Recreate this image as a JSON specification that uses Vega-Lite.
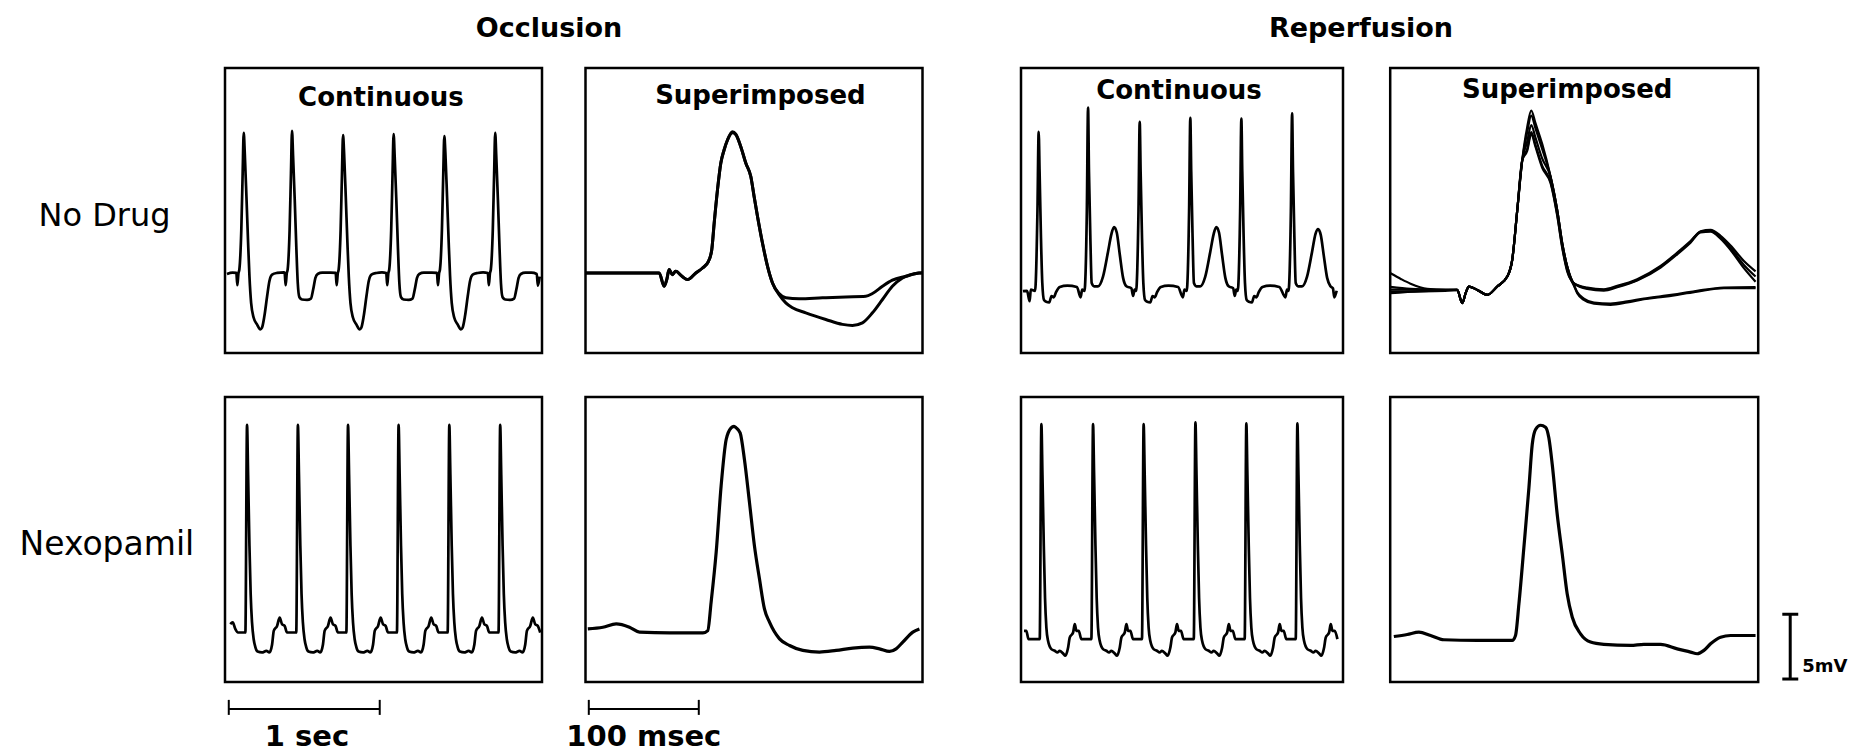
{
"$schema": "https://vega.github.io/schema/vega-lite/v6.json",
"background": "white",
"padding": {"left": 17, "top": 14, "right": 5, "bottom": 0},
"config": {"view": {"stroke": "black", "strokeWidth": 2.5}, "font": "DejaVu Sans"},
"datasets": {
"p1": [{"t":0.013,"v":6.1},{"t":0.05,"v":6.2},{"t":0.075,"v":6.18},{"t":0.082,"v":5.23},{"t":0.089,"v":6.15},{"t":0.095,"v":6.44},{"t":0.108,"v":9.49},{"t":0.117,"v":13.87},{"t":0.124,"v":17.0},{"t":0.131,"v":15.41},{"t":0.142,"v":12.08},{"t":0.153,"v":8.51},{"t":0.162,"v":5.92},{"t":0.173,"v":3.87},{"t":0.19,"v":2.72},{"t":0.212,"v":2.21},{"t":0.234,"v":1.82},{"t":0.245,"v":1.95},{"t":0.261,"v":2.85},{"t":0.279,"v":4.38},{"t":0.294,"v":5.54},{"t":0.312,"v":6.05},{"t":0.345,"v":6.18},{"t":0.39,"v":6.23},
{"t":0.395,"v":6.18},{"t":0.402,"v":5.23},{"t":0.409,"v":6.15},{"t":0.415,"v":6.44},{"t":0.428,"v":9.49},{"t":0.437,"v":13.87},{"t":0.444,"v":17.15},{"t":0.451,"v":15.2},{"t":0.462,"v":11.8},{"t":0.473,"v":8.0},{"t":0.482,"v":5.4},{"t":0.493,"v":4.3},{"t":0.51,"v":4.13},{"t":0.544,"v":4.1},{"t":0.569,"v":4.2},{"t":0.584,"v":4.9},{"t":0.599,"v":5.8},{"t":0.614,"v":6.1},{"t":0.644,"v":6.2},{"t":0.7,"v":6.2},
{"t":0.733,"v":6.18},{"t":0.74,"v":5.23},{"t":0.747,"v":6.15},{"t":0.753,"v":6.44},{"t":0.766,"v":9.49},{"t":0.775,"v":13.87},{"t":0.782,"v":16.82},{"t":0.789,"v":15.41},{"t":0.8,"v":12.08},{"t":0.811,"v":8.51},{"t":0.82,"v":5.92},{"t":0.831,"v":3.87},{"t":0.848,"v":2.72},{"t":0.87,"v":2.21},{"t":0.892,"v":1.82},{"t":0.903,"v":1.95},{"t":0.919,"v":2.85},{"t":0.937,"v":4.38},{"t":0.952,"v":5.54},{"t":0.97,"v":6.05},{"t":1.003,"v":6.18},{"t":1.04,"v":6.23},
{"t":1.068,"v":6.18},{"t":1.075,"v":5.23},{"t":1.082,"v":6.15},{"t":1.088,"v":6.44},{"t":1.101,"v":9.49},{"t":1.11,"v":13.87},{"t":1.117,"v":16.9},{"t":1.124,"v":15.2},{"t":1.135,"v":11.8},{"t":1.146,"v":8.0},{"t":1.155,"v":5.4},{"t":1.166,"v":4.3},{"t":1.183,"v":4.13},{"t":1.217,"v":4.1},{"t":1.242,"v":4.2},{"t":1.257,"v":4.9},{"t":1.272,"v":5.8},{"t":1.287,"v":6.1},{"t":1.317,"v":6.2},{"t":1.37,"v":6.2},
{"t":1.404,"v":6.18},{"t":1.411,"v":5.23},{"t":1.418,"v":6.15},{"t":1.424,"v":6.44},{"t":1.437,"v":9.49},{"t":1.446,"v":13.87},{"t":1.453,"v":16.74},{"t":1.46,"v":15.41},{"t":1.471,"v":12.08},{"t":1.482,"v":8.51},{"t":1.491,"v":5.92},{"t":1.502,"v":3.87},{"t":1.519,"v":2.72},{"t":1.541,"v":2.21},{"t":1.563,"v":1.82},{"t":1.574,"v":1.95},{"t":1.59,"v":2.85},{"t":1.608,"v":4.38},{"t":1.623,"v":5.54},{"t":1.641,"v":6.05},{"t":1.674,"v":6.18},{"t":1.71,"v":6.23},
{"t":1.741,"v":6.18},{"t":1.748,"v":5.23},{"t":1.755,"v":6.15},{"t":1.761,"v":6.44},{"t":1.774,"v":9.49},{"t":1.783,"v":13.87},{"t":1.79,"v":17.0},{"t":1.797,"v":15.2},{"t":1.808,"v":11.8},{"t":1.819,"v":8.0},{"t":1.828,"v":5.4},{"t":1.839,"v":4.3},{"t":1.856,"v":4.13},{"t":1.89,"v":4.1},{"t":1.915,"v":4.2},{"t":1.93,"v":4.9},{"t":1.945,"v":5.8},{"t":1.96,"v":6.1},{"t":1.99,"v":6.2},{"t":2.03,"v":6.2},{"t":2.065,"v":6.1},{"t":2.073,"v":5.2},{"t":2.085,"v":5.9}],
"p3": [{"t":0.013,"v":4.77},{"t":0.04,"v":4.8},{"t":0.057,"v":4.0},{"t":0.065,"v":4.9},{"t":0.093,"v":4.8},{"t":0.109,"v":11},{"t":0.117,"v":17.08},{"t":0.123,"v":14},{"t":0.132,"v":9},{"t":0.141,"v":5.4},{"t":0.152,"v":4.1},{"t":0.167,"v":3.95},{"t":0.187,"v":3.9},{"t":0.202,"v":4.4},{"t":0.217,"v":4.3},{"t":0.232,"v":4.7},{"t":0.257,"v":5.1},{"t":0.307,"v":5.2},{"t":0.37,"v":5.1},{"t":0.395,"v":4.3},{"t":0.405,"v":4.9},{"t":0.42,"v":4.8},
{"t":0.436,"v":11},{"t":0.444,"v":18.95},{"t":0.45,"v":14},{"t":0.459,"v":9},{"t":0.468,"v":5.4},{"t":0.484,"v":5.15},{"t":0.51,"v":5.15},{"t":0.543,"v":5.9},{"t":0.576,"v":7.8},{"t":0.599,"v":9.2},{"t":0.616,"v":9.72},{"t":0.634,"v":9.3},{"t":0.654,"v":7.6},{"t":0.676,"v":5.8},{"t":0.698,"v":5.15},{"t":0.731,"v":5.0},{"t":0.742,"v":4.4},{"t":0.752,"v":4.9},{"t":0.762,"v":4.8},
{"t":0.778,"v":11},{"t":0.786,"v":17.85},{"t":0.792,"v":14},{"t":0.801,"v":9},{"t":0.81,"v":5.4},{"t":0.821,"v":4.1},{"t":0.836,"v":3.95},{"t":0.856,"v":3.9},{"t":0.871,"v":4.4},{"t":0.886,"v":4.3},{"t":0.901,"v":4.7},{"t":0.926,"v":5.1},{"t":0.976,"v":5.2},{"t":1.04,"v":5.1},{"t":1.072,"v":4.3},{"t":1.082,"v":4.9},{"t":1.097,"v":4.8},
{"t":1.113,"v":11},{"t":1.121,"v":18.15},{"t":1.127,"v":14},{"t":1.136,"v":9},{"t":1.145,"v":5.4},{"t":1.161,"v":5.15},{"t":1.187,"v":5.15},{"t":1.22,"v":5.9},{"t":1.253,"v":7.8},{"t":1.276,"v":9.2},{"t":1.293,"v":9.72},{"t":1.311,"v":9.3},{"t":1.331,"v":7.6},{"t":1.353,"v":5.8},{"t":1.375,"v":5.15},{"t":1.405,"v":5.0},{"t":1.415,"v":4.4},{"t":1.425,"v":4.9},{"t":1.435,"v":4.8},
{"t":1.451,"v":11},{"t":1.459,"v":18.1},{"t":1.465,"v":14},{"t":1.474,"v":9},{"t":1.483,"v":5.4},{"t":1.494,"v":4.1},{"t":1.509,"v":3.95},{"t":1.529,"v":3.9},{"t":1.544,"v":4.4},{"t":1.559,"v":4.3},{"t":1.574,"v":4.7},{"t":1.599,"v":5.1},{"t":1.649,"v":5.2},{"t":1.71,"v":5.1},{"t":1.751,"v":4.3},{"t":1.761,"v":4.9},{"t":1.771,"v":4.8},
{"t":1.787,"v":11},{"t":1.795,"v":18.49},{"t":1.801,"v":14},{"t":1.81,"v":9},{"t":1.819,"v":5.4},{"t":1.835,"v":5.15},{"t":1.861,"v":5.15},{"t":1.894,"v":5.9},{"t":1.927,"v":7.8},{"t":1.95,"v":9.2},{"t":1.967,"v":9.56},{"t":1.985,"v":9.1},{"t":2.005,"v":7.5},{"t":2.027,"v":5.8},{"t":2.049,"v":5.15},{"t":2.065,"v":5.0},{"t":2.075,"v":4.3},{"t":2.09,"v":4.8}],
"p5": [{"t":0.035,"v":4.46},{"t":0.051,"v":4.6},{"t":0.068,"v":4.1},{"t":0.086,"v":3.82},{"t":0.135,"v":3.82},{"t":0.146,"v":19.85},{"t":0.153,"v":16.0},{"t":0.162,"v":10.5},{"t":0.17,"v":6.8},{"t":0.179,"v":4.6},{"t":0.19,"v":3.3},{"t":0.201,"v":2.7},{"t":0.216,"v":2.35},{"t":0.245,"v":2.28},{"t":0.274,"v":2.4},{"t":0.294,"v":2.28},{"t":0.312,"v":2.9},{"t":0.323,"v":3.95},{"t":0.345,"v":4.33},{"t":0.362,"v":4.97},{"t":0.378,"v":4.46},{"t":0.395,"v":4.33},{"t":0.411,"v":3.82},
{"t":0.472,"v":3.82},{"t":0.483,"v":19.85},{"t":0.49,"v":16.0},{"t":0.499,"v":10.5},{"t":0.507,"v":6.8},{"t":0.516,"v":4.6},{"t":0.527,"v":3.3},{"t":0.538,"v":2.7},{"t":0.553,"v":2.35},{"t":0.582,"v":2.28},{"t":0.611,"v":2.4},{"t":0.631,"v":2.28},{"t":0.649,"v":2.9},{"t":0.66,"v":3.95},{"t":0.682,"v":4.33},{"t":0.699,"v":4.97},{"t":0.715,"v":4.46},{"t":0.732,"v":4.33},{"t":0.748,"v":3.82},
{"t":0.804,"v":3.82},{"t":0.815,"v":19.85},{"t":0.822,"v":16.0},{"t":0.831,"v":10.5},{"t":0.839,"v":6.8},{"t":0.848,"v":4.6},{"t":0.859,"v":3.3},{"t":0.87,"v":2.7},{"t":0.885,"v":2.35},{"t":0.914,"v":2.28},{"t":0.943,"v":2.4},{"t":0.963,"v":2.28},{"t":0.981,"v":2.9},{"t":0.992,"v":3.95},{"t":1.014,"v":4.33},{"t":1.031,"v":4.97},{"t":1.047,"v":4.46},{"t":1.064,"v":4.33},{"t":1.08,"v":3.82},
{"t":1.139,"v":3.82},{"t":1.15,"v":19.85},{"t":1.157,"v":16.0},{"t":1.166,"v":10.5},{"t":1.174,"v":6.8},{"t":1.183,"v":4.6},{"t":1.194,"v":3.3},{"t":1.205,"v":2.7},{"t":1.22,"v":2.35},{"t":1.249,"v":2.28},{"t":1.278,"v":2.4},{"t":1.298,"v":2.28},{"t":1.316,"v":2.9},{"t":1.327,"v":3.95},{"t":1.349,"v":4.33},{"t":1.366,"v":4.97},{"t":1.382,"v":4.46},{"t":1.399,"v":4.33},{"t":1.415,"v":3.82},
{"t":1.475,"v":3.82},{"t":1.486,"v":19.85},{"t":1.493,"v":16.0},{"t":1.502,"v":10.5},{"t":1.51,"v":6.8},{"t":1.519,"v":4.6},{"t":1.53,"v":3.3},{"t":1.541,"v":2.7},{"t":1.556,"v":2.35},{"t":1.585,"v":2.28},{"t":1.614,"v":2.4},{"t":1.634,"v":2.28},{"t":1.652,"v":2.9},{"t":1.663,"v":3.95},{"t":1.685,"v":4.33},{"t":1.702,"v":4.97},{"t":1.718,"v":4.46},{"t":1.735,"v":4.33},{"t":1.751,"v":3.82},
{"t":1.812,"v":3.82},{"t":1.823,"v":19.85},{"t":1.83,"v":16.0},{"t":1.839,"v":10.5},{"t":1.847,"v":6.8},{"t":1.856,"v":4.6},{"t":1.867,"v":3.3},{"t":1.878,"v":2.7},{"t":1.893,"v":2.35},{"t":1.922,"v":2.28},{"t":1.951,"v":2.4},{"t":1.971,"v":2.28},{"t":1.989,"v":2.9},{"t":2.0,"v":3.95},{"t":2.022,"v":4.33},{"t":2.039,"v":4.97},{"t":2.055,"v":4.46},{"t":2.072,"v":4.33},{"t":2.088,"v":3.82}],
"p7": [{"t":0.02,"v":3.95},{"t":0.035,"v":3.95},{"t":0.05,"v":3.31},{"t":0.124,"v":3.31},{"t":0.135,"v":19.9},{"t":0.142,"v":16.0},{"t":0.151,"v":10.5},{"t":0.159,"v":6.5},{"t":0.168,"v":4.2},{"t":0.179,"v":3.18},{"t":0.201,"v":2.54},{"t":0.223,"v":2.41},{"t":0.241,"v":2.28},{"t":0.256,"v":2.41},{"t":0.278,"v":2.21},{"t":0.294,"v":2.03},{"t":0.312,"v":2.67},{"t":0.323,"v":3.44},{"t":0.345,"v":3.82},{"t":0.356,"v":4.46},{"t":0.367,"v":3.95},{"t":0.382,"v":3.95},{"t":0.4,"v":3.31},
{"t":0.466,"v":3.31},{"t":0.477,"v":19.9},{"t":0.484,"v":16.0},{"t":0.493,"v":10.5},{"t":0.501,"v":6.5},{"t":0.51,"v":4.2},{"t":0.521,"v":3.18},{"t":0.543,"v":2.54},{"t":0.565,"v":2.41},{"t":0.583,"v":2.28},{"t":0.598,"v":2.41},{"t":0.62,"v":2.21},{"t":0.636,"v":2.03},{"t":0.654,"v":2.67},{"t":0.665,"v":3.44},{"t":0.687,"v":3.82},{"t":0.698,"v":4.46},{"t":0.709,"v":3.95},{"t":0.724,"v":3.95},{"t":0.742,"v":3.31},
{"t":0.801,"v":3.31},{"t":0.812,"v":19.9},{"t":0.819,"v":16.0},{"t":0.828,"v":10.5},{"t":0.836,"v":6.5},{"t":0.845,"v":4.2},{"t":0.856,"v":3.18},{"t":0.878,"v":2.54},{"t":0.9,"v":2.41},{"t":0.918,"v":2.28},{"t":0.933,"v":2.41},{"t":0.955,"v":2.21},{"t":0.971,"v":2.03},{"t":0.989,"v":2.67},{"t":1.0,"v":3.44},{"t":1.022,"v":3.82},{"t":1.033,"v":4.46},{"t":1.044,"v":3.95},{"t":1.059,"v":3.95},{"t":1.077,"v":3.31},
{"t":1.144,"v":3.31},{"t":1.155,"v":20.05},{"t":1.162,"v":16.0},{"t":1.171,"v":10.5},{"t":1.179,"v":6.5},{"t":1.188,"v":4.2},{"t":1.199,"v":3.18},{"t":1.221,"v":2.54},{"t":1.243,"v":2.41},{"t":1.261,"v":2.28},{"t":1.276,"v":2.41},{"t":1.298,"v":2.21},{"t":1.314,"v":2.03},{"t":1.332,"v":2.67},{"t":1.343,"v":3.44},{"t":1.365,"v":3.82},{"t":1.376,"v":4.46},{"t":1.387,"v":3.95},{"t":1.402,"v":3.95},{"t":1.42,"v":3.31},
{"t":1.481,"v":3.31},{"t":1.492,"v":19.97},{"t":1.499,"v":16.0},{"t":1.508,"v":10.5},{"t":1.516,"v":6.5},{"t":1.525,"v":4.2},{"t":1.536,"v":3.18},{"t":1.558,"v":2.54},{"t":1.58,"v":2.41},{"t":1.598,"v":2.28},{"t":1.613,"v":2.41},{"t":1.635,"v":2.21},{"t":1.651,"v":2.03},{"t":1.669,"v":2.67},{"t":1.68,"v":3.44},{"t":1.702,"v":3.82},{"t":1.713,"v":4.46},{"t":1.724,"v":3.95},{"t":1.739,"v":3.95},{"t":1.757,"v":3.31},
{"t":1.819,"v":3.31},{"t":1.83,"v":19.97},{"t":1.837,"v":16.0},{"t":1.846,"v":10.5},{"t":1.854,"v":6.5},{"t":1.863,"v":4.2},{"t":1.874,"v":3.18},{"t":1.896,"v":2.54},{"t":1.918,"v":2.41},{"t":1.936,"v":2.28},{"t":1.951,"v":2.41},{"t":1.973,"v":2.21},{"t":1.989,"v":2.03},{"t":2.007,"v":2.67},{"t":2.018,"v":3.44},{"t":2.04,"v":3.82},{"t":2.051,"v":4.46},{"t":2.062,"v":3.95},{"t":2.077,"v":3.95},{"t":2.095,"v":3.31}],
"p2": [{"s":"a","t":0.3,"v":6.18},{"s":"a","t":40,"v":6.18},{"s":"a","t":67,"v":6.18},{"s":"a","t":71.5,"v":5.15},{"s":"a","t":74,"v":5.7},{"s":"a","t":76,"v":6.44},{"s":"a","t":79,"v":6.05},{"s":"a","t":82,"v":6.31},{"s":"a","t":88,"v":5.9},{"s":"a","t":92.7,"v":5.67},{"s":"a","t":100.3,"v":6.18},{"s":"a","t":106.4,"v":6.56},{"s":"a","t":111.8,"v":7.08},{"s":"a","t":114.8,"v":7.97},{"s":"a","t":117,"v":10.03},{"s":"a","t":120,"v":12.59},{"s":"a","t":123,"v":14.64},{"s":"a","t":126,"v":15.67},{"s":"a","t":129.1,"v":16.44},{"s":"a","t":133.6,"v":17.08},{"s":"a","t":136.7,"v":16.9},{"s":"a","t":141.2,"v":15.92},{"s":"a","t":145.8,"v":14.64},{"s":"a","t":150.3,"v":13.62},{"s":"a","t":153.3,"v":12.08},{"s":"a","t":156.4,"v":10.54},{"s":"a","t":160.9,"v":8.49},{"s":"a","t":165.5,"v":6.69},{"s":"a","t":170,"v":5.41},{"s":"a","t":176,"v":4.59},{"s":"a","t":182.1,"v":4.26},{"s":"a","t":194.2,"v":4.18},{"s":"a","t":215.5,"v":4.26},{"s":"a","t":236.7,"v":4.33},{"s":"a","t":254.8,"v":4.38},{"s":"a","t":260.9,"v":4.59},{"s":"a","t":270,"v":5.15},{"s":"a","t":279,"v":5.62},{"s":"a","t":291.2,"v":5.92},{"s":"a","t":303.3,"v":6.18},{"s":"a","t":306.4,"v":6.2},
{"s":"b","t":0.3,"v":6.18},{"s":"b","t":40,"v":6.18},{"s":"b","t":67,"v":6.18},{"s":"b","t":71.5,"v":5.15},{"s":"b","t":74,"v":5.7},{"s":"b","t":76,"v":6.44},{"s":"b","t":79,"v":6.05},{"s":"b","t":82,"v":6.31},{"s":"b","t":88,"v":5.9},{"s":"b","t":92.7,"v":5.67},{"s":"b","t":100.3,"v":6.18},{"s":"b","t":106.4,"v":6.56},{"s":"b","t":111.8,"v":7.08},{"s":"b","t":114.8,"v":7.97},{"s":"b","t":117,"v":10.03},{"s":"b","t":120,"v":12.59},{"s":"b","t":123,"v":14.64},{"s":"b","t":126,"v":15.67},{"s":"b","t":129.1,"v":16.44},{"s":"b","t":133.6,"v":17.0},{"s":"b","t":136.7,"v":16.85},{"s":"b","t":141.2,"v":15.92},{"s":"b","t":145.8,"v":14.64},{"s":"b","t":150.3,"v":13.62},{"s":"b","t":153.3,"v":12.08},{"s":"b","t":156.4,"v":10.54},{"s":"b","t":160.9,"v":8.49},{"s":"b","t":165.5,"v":6.69},{"s":"b","t":170,"v":5.41},{"s":"b","t":176,"v":4.5},{"s":"b","t":182.1,"v":3.87},{"s":"b","t":188.2,"v":3.49},{"s":"b","t":200.3,"v":3.1},{"s":"b","t":218.5,"v":2.59},{"s":"b","t":233.6,"v":2.21},{"s":"b","t":242.7,"v":2.13},{"s":"b","t":251.8,"v":2.33},{"s":"b","t":260.9,"v":3.1},{"s":"b","t":270,"v":4.13},{"s":"b","t":279,"v":5.15},{"s":"b","t":288.2,"v":5.79},{"s":"b","t":303.3,"v":6.18},{"s":"b","t":306.4,"v":6.2}],
"p4": [{"s":1,"t":0.3,"v":6.15},{"s":1,"t":10,"v":5.7},{"s":1,"t":18.5,"v":5.35},{"s":1,"t":33.6,"v":4.95},{"s":1,"t":50,"v":4.87},{"s":1,"t":60.9,"v":4.87},{"s":1,"t":65.5,"v":3.85},{"s":1,"t":68.5,"v":4.6},{"s":1,"t":71.5,"v":5.13},{"s":1,"t":79.1,"v":4.87},{"s":1,"t":88.2,"v":4.49},{"s":1,"t":97.3,"v":5.13},{"s":1,"t":106.4,"v":5.9},{"s":1,"t":110.9,"v":7.18},{"s":1,"t":115.5,"v":11.03},{"s":1,"t":120,"v":14.87},{"s":1,"t":124.5,"v":17.42},{"s":1,"t":128.2,"v":18.72},{"s":1,"t":132.1,"v":17.72},{"s":1,"t":138.2,"v":16.12},{"s":1,"t":145.8,"v":13.59},{"s":1,"t":151.8,"v":11.03},{"s":1,"t":156.4,"v":8.46},{"s":1,"t":160.9,"v":6.67},{"s":1,"t":167,"v":5.38},{"s":1,"t":179.1,"v":5.0},{"s":1,"t":194.2,"v":4.87},{"s":1,"t":206.4,"v":5.13},{"s":1,"t":224.5,"v":5.64},{"s":1,"t":245.8,"v":6.67},{"s":1,"t":260.9,"v":7.69},{"s":1,"t":273,"v":8.59},{"s":1,"t":282.1,"v":9.4},{"s":1,"t":291.2,"v":9.5},{"s":1,"t":300.3,"v":9.05},{"s":1,"t":309.4,"v":8.3},{"s":1,"t":321.5,"v":7.1},{"s":1,"t":332.1,"v":6.3},
{"s":2,"t":0.3,"v":5.1},{"s":2,"t":18.5,"v":4.95},{"s":2,"t":50,"v":4.87},{"s":2,"t":60.9,"v":4.87},{"s":2,"t":65.5,"v":3.85},{"s":2,"t":68.5,"v":4.6},{"s":2,"t":71.5,"v":5.13},{"s":2,"t":79.1,"v":4.87},{"s":2,"t":88.2,"v":4.49},{"s":2,"t":97.3,"v":5.13},{"s":2,"t":106.4,"v":5.9},{"s":2,"t":110.9,"v":7.18},{"s":2,"t":115.5,"v":11.03},{"s":2,"t":120,"v":14.87},{"s":2,"t":124.5,"v":17.03},{"s":2,"t":128.2,"v":18.33},{"s":2,"t":132.1,"v":17.33},{"s":2,"t":138.2,"v":15.73},{"s":2,"t":145.8,"v":13.59},{"s":2,"t":151.8,"v":11.03},{"s":2,"t":156.4,"v":8.46},{"s":2,"t":160.9,"v":6.67},{"s":2,"t":167,"v":5.38},{"s":2,"t":179.1,"v":5.05},{"s":2,"t":194.2,"v":4.92},{"s":2,"t":206.4,"v":5.18},{"s":2,"t":224.5,"v":5.7},{"s":2,"t":245.8,"v":6.72},{"s":2,"t":260.9,"v":7.75},{"s":2,"t":273,"v":8.64},{"s":2,"t":282.1,"v":9.36},{"s":2,"t":291.2,"v":9.42},{"s":2,"t":300.3,"v":8.9},{"s":2,"t":309.4,"v":8.1},{"s":2,"t":321.5,"v":6.8},{"s":2,"t":332.1,"v":5.9},
{"s":3,"t":0.3,"v":4.75},{"s":3,"t":50,"v":4.8},{"s":3,"t":60.9,"v":4.87},{"s":3,"t":65.5,"v":3.85},{"s":3,"t":68.5,"v":4.6},{"s":3,"t":71.5,"v":5.13},{"s":3,"t":79.1,"v":4.87},{"s":3,"t":88.2,"v":4.49},{"s":3,"t":97.3,"v":5.13},{"s":3,"t":106.4,"v":5.9},{"s":3,"t":110.9,"v":7.18},{"s":3,"t":115.5,"v":11.03},{"s":3,"t":120,"v":14.87},{"s":3,"t":124.5,"v":16.3},{"s":3,"t":128.2,"v":17.6},{"s":3,"t":132.1,"v":16.6},{"s":3,"t":138.2,"v":15.0},{"s":3,"t":145.8,"v":13.59},{"s":3,"t":151.8,"v":11.03},{"s":3,"t":156.4,"v":8.46},{"s":3,"t":160.9,"v":6.67},{"s":3,"t":167,"v":5.38},{"s":3,"t":179.1,"v":4.95},{"s":3,"t":194.2,"v":4.82},{"s":3,"t":206.4,"v":5.08},{"s":3,"t":224.5,"v":5.6},{"s":3,"t":245.8,"v":6.6},{"s":3,"t":260.9,"v":7.62},{"s":3,"t":273,"v":8.52},{"s":3,"t":282.1,"v":9.3},{"s":3,"t":291.2,"v":9.36},{"s":3,"t":300.3,"v":8.82},{"s":3,"t":309.4,"v":7.95},{"s":3,"t":321.5,"v":6.55},{"s":3,"t":332.1,"v":5.5},
{"s":4,"t":0.3,"v":4.9},{"s":4,"t":50,"v":4.87},{"s":4,"t":60.9,"v":4.87},{"s":4,"t":65.5,"v":3.85},{"s":4,"t":68.5,"v":4.6},{"s":4,"t":71.5,"v":5.13},{"s":4,"t":79.1,"v":4.87},{"s":4,"t":88.2,"v":4.49},{"s":4,"t":97.3,"v":5.13},{"s":4,"t":106.4,"v":5.9},{"s":4,"t":110.9,"v":7.18},{"s":4,"t":115.5,"v":11.03},{"s":4,"t":120,"v":14.87},{"s":4,"t":124.5,"v":15.75},{"s":4,"t":128.2,"v":17.05},{"s":4,"t":132.1,"v":16.05},{"s":4,"t":138.2,"v":14.45},{"s":4,"t":145.8,"v":13.2},{"s":4,"t":151.8,"v":10.7},{"s":4,"t":156.4,"v":8.2},{"s":4,"t":160.9,"v":6.4},{"s":4,"t":167,"v":5.2},{"s":4,"t":170,"v":4.62},{"s":4,"t":176,"v":4.1},{"s":4,"t":185.2,"v":3.8},{"s":4,"t":200.3,"v":3.72},{"s":4,"t":215.5,"v":3.9},{"s":4,"t":230.6,"v":4.15},{"s":4,"t":245.8,"v":4.31},{"s":4,"t":260.9,"v":4.49},{"s":4,"t":279,"v":4.74},{"s":4,"t":303.3,"v":5.0},{"s":4,"t":332.1,"v":5.0},
{"s":5,"t":0.3,"v":4.62},{"s":5,"t":50,"v":4.85},{"s":5,"t":60.9,"v":4.87},{"s":5,"t":65.5,"v":3.85},{"s":5,"t":68.5,"v":4.6},{"s":5,"t":71.5,"v":5.13},{"s":5,"t":79.1,"v":4.87},{"s":5,"t":88.2,"v":4.49},{"s":5,"t":97.3,"v":5.13},{"s":5,"t":106.4,"v":5.9},{"s":5,"t":110.9,"v":7.18},{"s":5,"t":115.5,"v":11.03},{"s":5,"t":120,"v":14.87},{"s":5,"t":124.5,"v":15.6},{"s":5,"t":128.2,"v":16.9},{"s":5,"t":132.1,"v":15.9},{"s":5,"t":138.2,"v":14.3},{"s":5,"t":145.8,"v":13.1},{"s":5,"t":151.8,"v":10.6},{"s":5,"t":156.4,"v":8.1},{"s":5,"t":160.9,"v":6.3},{"s":5,"t":167,"v":5.25},{"s":5,"t":170,"v":4.7},{"s":5,"t":176,"v":4.2},{"s":5,"t":185.2,"v":3.9},{"s":5,"t":200.3,"v":3.82},{"s":5,"t":215.5,"v":3.98},{"s":5,"t":230.6,"v":4.2},{"s":5,"t":245.8,"v":4.38},{"s":5,"t":260.9,"v":4.55},{"s":5,"t":279,"v":4.8},{"s":5,"t":303.3,"v":5.05},{"s":5,"t":332.1,"v":5.08}],
"p6": [{"t":2.1,"v":4.1},{"t":15.8,"v":4.23},{"t":27.9,"v":4.49},{"t":40,"v":4.23},{"t":49.1,"v":3.85},{"t":76.4,"v":3.79},{"t":106.7,"v":3.79},{"t":111.2,"v":3.97},{"t":114.2,"v":6.15},{"t":118.8,"v":10.0},{"t":123.3,"v":15.13},{"t":127.9,"v":18.72},{"t":132.4,"v":19.62},{"t":135,"v":19.74},{"t":137,"v":19.62},{"t":140.6,"v":19.23},{"t":144.5,"v":17.18},{"t":149.1,"v":13.85},{"t":153.6,"v":10.51},{"t":158.2,"v":7.95},{"t":162.7,"v":5.64},{"t":167.3,"v":4.62},{"t":176.4,"v":3.33},{"t":185.5,"v":2.82},{"t":197.6,"v":2.44},{"t":212.7,"v":2.31},{"t":227.9,"v":2.44},{"t":243,"v":2.62},{"t":258.2,"v":2.69},{"t":267.3,"v":2.56},{"t":276.4,"v":2.36},{"t":282.4,"v":2.56},{"t":288.5,"v":3.08},{"t":297.6,"v":3.85},{"t":303.6,"v":4.1}],
"p8": [{"t":3.3,"v":3.51},{"t":15.5,"v":3.67},{"t":26.1,"v":3.85},{"t":36.7,"v":3.59},{"t":48.8,"v":3.26},{"t":79.1,"v":3.21},{"t":110.9,"v":3.21},{"t":113.9,"v":3.59},{"t":117,"v":6.03},{"t":121.5,"v":10.38},{"t":126.1,"v":15.0},{"t":129.1,"v":18.33},{"t":132.1,"v":19.49},{"t":136.7,"v":19.82},{"t":141.2,"v":19.67},{"t":144.2,"v":18.85},{"t":147.3,"v":16.79},{"t":151.8,"v":12.95},{"t":156.4,"v":9.87},{"t":160.9,"v":6.79},{"t":165.5,"v":5.0},{"t":173,"v":3.72},{"t":182.1,"v":3.08},{"t":194.2,"v":2.9},{"t":218.5,"v":2.82},{"t":230.6,"v":2.9},{"t":245.8,"v":2.9},{"t":260.9,"v":2.56},{"t":273,"v":2.31},{"t":279.1,"v":2.18},{"t":285.2,"v":2.44},{"t":291.2,"v":2.95},{"t":300.3,"v":3.46},{"t":309.4,"v":3.59},{"t":332.1,"v":3.59}]
},
"spacing": 86,
"hconcat": [
{
 "title": {"text": "Occlusion", "anchor": "middle", "frame": "group", "offset": 3, "dx": 324, "baseline": "alphabetic", "font": "DejaVu Sans", "fontSize": 27, "fontWeight": "bold", "color": "black"},
 "columns": 2,
 "align": "each",
 "spacing": {"row": 40, "column": 17.5},
 "concat": [
   {"width": 317, "height": 285,
    "encoding": {
     "x": {"field": "t", "type": "quantitative", "scale": {"domain": [0, 2.1], "nice": false, "zero": false}, "axis": null},
     "y": {"field": "v", "type": "quantitative", "scale": {"domain": [0, 22], "nice": false, "zero": false},
           "axis": {"domain": false, "ticks": false, "labels": false, "grid": false, "title": "No Drug", "titleAngle": 0, "titleAlign": "left", "titleBaseline": "alphabetic", "titleX": -187, "titleY": 157, "titleFont": "DejaVu Sans", "titleFontSize": 32, "titleFontWeight": "normal", "titleColor": "black"}}
    },
    "layer": [
     {"data": {"name": "p1"}, "mark": {"type": "line", "color": "black", "strokeWidth": 2.7, "interpolate": "monotone"}},
     {"data": {"values": [{"t": 1.033, "v": 19.07, "label": "Continuous"}]}, "mark": {"type": "text", "color": "black", "align": "center", "baseline": "alphabetic", "font": "DejaVu Sans", "fontSize": 26, "fontWeight": "bold"}, "encoding": {"text": {"field": "label"}}}
    ]},
   {"width": 337, "height": 285,
    "encoding": {
     "x": {"field": "t", "type": "quantitative", "scale": {"domain": [0, 306.4], "nice": false, "zero": false}, "axis": null},
     "y": {"field": "v", "type": "quantitative", "scale": {"domain": [0, 22], "nice": false, "zero": false}, "axis": null}
    },
    "layer": [
     {"data": {"name": "p2"}, "mark": {"type": "line", "color": "black", "strokeWidth": 3, "interpolate": "monotone"}, "encoding": {"detail": {"field": "s"}}},
     {"data": {"values": [{"t": 159, "v": 19.22, "label": "Superimposed"}]}, "mark": {"type": "text", "color": "black", "align": "center", "baseline": "alphabetic", "font": "DejaVu Sans", "fontSize": 26, "fontWeight": "bold"}, "encoding": {"text": {"field": "label"}}}
    ]},
   {"width": 317, "height": 285,
    "encoding": {
     "x": {"field": "t", "type": "quantitative", "scale": {"domain": [0, 2.1], "nice": false, "zero": false}, "axis": null},
     "y": {"field": "v", "type": "quantitative", "scale": {"domain": [0, 22], "nice": false, "zero": false},
           "axis": {"domain": false, "ticks": false, "labels": false, "grid": false, "title": "Nexopamil", "titleAngle": 0, "titleAlign": "left", "titleBaseline": "alphabetic", "titleX": -206, "titleY": 157, "titleFont": "DejaVu Sans", "titleFontSize": 33, "titleFontWeight": "normal", "titleColor": "black"}}
    },
    "layer": [
     {"data": {"name": "p5"}, "mark": {"type": "line", "color": "black", "strokeWidth": 2.7, "interpolate": "monotone"}},
     {"data": {"values": [{"t": 0.025, "t2": 1.025, "v": -2.08}]}, "mark": {"type": "rule", "color": "black", "strokeWidth": 2}, "encoding": {"x2": {"field": "t2"}}},
     {"data": {"values": [{"t": 0.025, "v": -1.38, "v2": -2.54}, {"t": 1.025, "v": -1.38, "v2": -2.54}]}, "mark": {"type": "rule", "color": "black", "strokeWidth": 2}, "encoding": {"y2": {"field": "v2"}}},
     {"data": {"values": [{"t": 0.543, "v": -4.95, "label": "1 sec"}]}, "mark": {"type": "text", "color": "black", "align": "center", "baseline": "alphabetic", "font": "DejaVu Sans", "fontSize": 29, "fontWeight": "bold"}, "encoding": {"text": {"field": "label"}}}
    ]},
   {"width": 337, "height": 285,
    "encoding": {
     "x": {"field": "t", "type": "quantitative", "scale": {"domain": [0, 306.4], "nice": false, "zero": false}, "axis": null},
     "y": {"field": "v", "type": "quantitative", "scale": {"domain": [0, 22], "nice": false, "zero": false}, "axis": null}
    },
    "layer": [
     {"data": {"name": "p6"}, "mark": {"type": "line", "color": "black", "strokeWidth": 3.2, "interpolate": "monotone"}},
     {"data": {"values": [{"t": 3, "t2": 103, "v": -2.08}]}, "mark": {"type": "rule", "color": "black", "strokeWidth": 2}, "encoding": {"x2": {"field": "t2"}}},
     {"data": {"values": [{"t": 3, "v": -1.38, "v2": -2.54}, {"t": 103, "v": -1.38, "v2": -2.54}]}, "mark": {"type": "rule", "color": "black", "strokeWidth": 2}, "encoding": {"y2": {"field": "v2"}}},
     {"data": {"values": [{"t": 53, "v": -4.95, "label": "100 msec"}]}, "mark": {"type": "text", "color": "black", "align": "center", "baseline": "alphabetic", "font": "DejaVu Sans", "fontSize": 29, "fontWeight": "bold"}, "encoding": {"text": {"field": "label"}}}
    ]}
 ]
},
{
 "title": {"text": "Reperfusion", "anchor": "middle", "frame": "group", "offset": 3, "dx": 340, "baseline": "alphabetic", "font": "DejaVu Sans", "fontSize": 27, "fontWeight": "bold", "color": "black"},
 "columns": 2,
 "align": "each",
 "spacing": {"row": 40, "column": 39.2},
 "concat": [
   {"width": 322, "height": 285,
    "encoding": {
     "x": {"field": "t", "type": "quantitative", "scale": {"domain": [0, 2.132], "nice": false, "zero": false}, "axis": null},
     "y": {"field": "v", "type": "quantitative", "scale": {"domain": [0, 22], "nice": false, "zero": false}, "axis": null}
    },
    "layer": [
     {"data": {"name": "p3"}, "mark": {"type": "line", "color": "black", "strokeWidth": 2.7, "interpolate": "monotone"}},
     {"data": {"values": [{"t": 1.046, "v": 19.6, "label": "Continuous"}]}, "mark": {"type": "text", "color": "black", "align": "center", "baseline": "alphabetic", "font": "DejaVu Sans", "fontSize": 26, "fontWeight": "bold"}, "encoding": {"text": {"field": "label"}}}
    ]},
   {"width": 368, "height": 285,
    "encoding": {
     "x": {"field": "t", "type": "quantitative", "scale": {"domain": [0, 334.5], "nice": false, "zero": false}, "axis": null},
     "y": {"field": "v", "type": "quantitative", "scale": {"domain": [0, 22], "nice": false, "zero": false}, "axis": null}
    },
    "layer": [
     {"data": {"name": "p4"}, "mark": {"type": "line", "color": "black", "strokeWidth": 2.2, "interpolate": "monotone"}, "encoding": {"detail": {"field": "s"}}},
     {"data": {"values": [{"t": 160.9, "v": 19.68, "label": "Superimposed"}]}, "mark": {"type": "text", "color": "black", "align": "center", "baseline": "alphabetic", "font": "DejaVu Sans", "fontSize": 26, "fontWeight": "bold"}, "encoding": {"text": {"field": "label"}}}
    ]},
   {"width": 322, "height": 285,
    "data": {"name": "p7"},
    "mark": {"type": "line", "color": "black", "strokeWidth": 2.7, "interpolate": "monotone"},
    "encoding": {
     "x": {"field": "t", "type": "quantitative", "scale": {"domain": [0, 2.132], "nice": false, "zero": false}, "axis": null},
     "y": {"field": "v", "type": "quantitative", "scale": {"domain": [0, 22], "nice": false, "zero": false}, "axis": null}
    }},
   {"width": 368, "height": 285,
    "encoding": {
     "x": {"field": "t", "type": "quantitative", "scale": {"domain": [0, 334.5], "nice": false, "zero": false}, "axis": null},
     "y": {"field": "v", "type": "quantitative", "scale": {"domain": [0, 22], "nice": false, "zero": false}, "axis": null}
    },
    "layer": [
     {"data": {"name": "p8"}, "mark": {"type": "line", "color": "black", "strokeWidth": 3.2, "interpolate": "monotone"}},
     {"data": {"values": [{"t": 363.6, "v": 0.23, "v2": 5.23}]}, "mark": {"type": "rule", "color": "black", "strokeWidth": 3}, "encoding": {"y2": {"field": "v2"}}},
     {"data": {"values": [{"t": 356.4, "t2": 370.9, "v": 0.23}, {"t": 356.4, "t2": 370.9, "v": 5.23}]}, "mark": {"type": "rule", "color": "black", "strokeWidth": 3}, "encoding": {"x2": {"field": "t2"}}},
     {"data": {"values": [{"t": 374.5, "v": 0.77, "label": "5mV"}]}, "mark": {"type": "text", "color": "black", "align": "left", "baseline": "alphabetic", "font": "DejaVu Sans", "fontSize": 18, "fontWeight": "bold"}, "encoding": {"text": {"field": "label"}}}
    ]}
 ]
}
]
}
